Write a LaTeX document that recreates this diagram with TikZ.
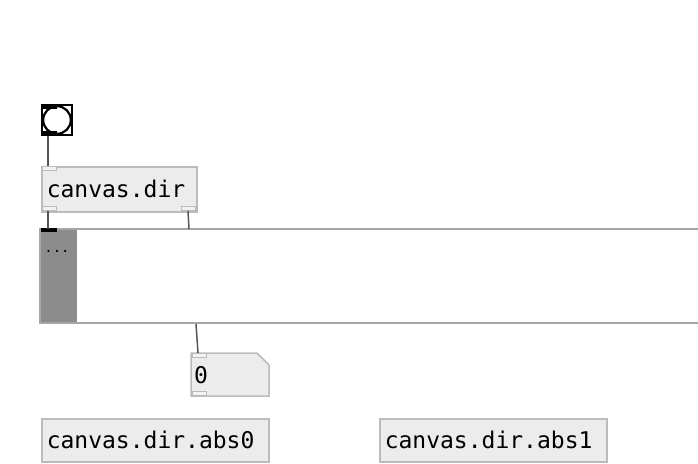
\documentclass[tikz,border=0pt]{standalone}
\usepackage{fontspec}
\setmonofont{DejaVu Sans Mono}
\definecolor{boxfill}{HTML}{ECECEC}
\definecolor{boxline}{HTML}{BBBBBB}
\definecolor{wire}{HTML}{555555}
\definecolor{gopline}{HTML}{A6A6A6}
\definecolor{gopdark}{HTML}{8C8C8C}
\tikzset{
  objbox/.style={draw=boxline, fill=boxfill, line width=1.5pt, anchor=north west,
    inner sep=0pt, align=left, font=\ttfamily\fontsize{23}{26}\selectfont},
  iolet/.style={draw=boxline, fill=boxfill!70!white, line width=1pt},
  wireline/.style={draw=wire, line width=1.5pt},
}
\begin{document}
\begin{tikzpicture}[x=1pt,y=-1pt]
\useasboundingbox (0,0) rectangle (698,463);
\begin{scope}
\clip (0,0) rectangle (698,463);
% graph-on-parent subpatch
\fill[white] (40,229) rectangle (710,323);
\fill[gopdark] (40,229) rectangle (77,323);
\draw[gopline, line width=1.5pt] (710,229) -- (40,229) -- (40,323) -- (710,323);
\end{scope}
\coordinate (gin) at (48,229);
\coordinate (gin2) at (189,229);
\coordinate (gout) at (196,324);
\fill[black] (41,228) rectangle (57,232);
\node[font=\ttfamily\fontsize{14}{16}\selectfont, inner sep=0pt] (dots) at (57,251) {...};
% bang
\draw[black, line width=2pt, fill=white] (42,105) rectangle (72,135);
\draw[black, line width=2.2pt] (57,120) circle (13.8);
\fill[black] (41,104) rectangle (57,109);
\fill[black] (41,131) rectangle (57,136);
\coordinate (bangout) at (48,136);
% canvas.dir
\node[objbox, minimum width=155, minimum height=45, text width=151] (cd) at (41,166) {\hspace*{3pt}canvas.dir};
\draw[iolet] (42,166.5) rectangle (56,170.5);
\draw[iolet] (42,206.5) rectangle (56,210.5);
\draw[iolet] (181,206.5) rectangle (195,210.5);
\coordinate (cdin) at (48,166);
\coordinate (cdout0) at (48,211);
\coordinate (cdout1) at (188,211);
% number box
\draw[boxline, fill=boxfill, line width=1.5pt] (191,353) -- (257,353) -- (269,365) -- (269,396) -- (191,396) -- cycle;
\node[anchor=west, inner sep=0pt, font=\ttfamily\fontsize{23}{26}\selectfont] (num) at (194,375) {0};
\draw[iolet] (192,353.5) rectangle (206,357.5);
\draw[iolet] (192,391.5) rectangle (206,395.5);
\coordinate (numin) at (198,353);
% bottom objects
\node[objbox, minimum width=227, minimum height=43, text width=223] (abs0) at (41,418) {\hspace*{3pt}canvas.dir.abs0};
\node[objbox, minimum width=227, minimum height=43, text width=223] (abs1) at (379,418) {\hspace*{3pt}canvas.dir.abs1};
% wires
\draw[wireline] (bangout) -- (cdin);
\draw[wireline] (cdout0) -- (gin);
\draw[wireline] (cdout1) -- (gin2);
\draw[wireline] (gout) -- (numin);
\end{tikzpicture}
\end{document}
